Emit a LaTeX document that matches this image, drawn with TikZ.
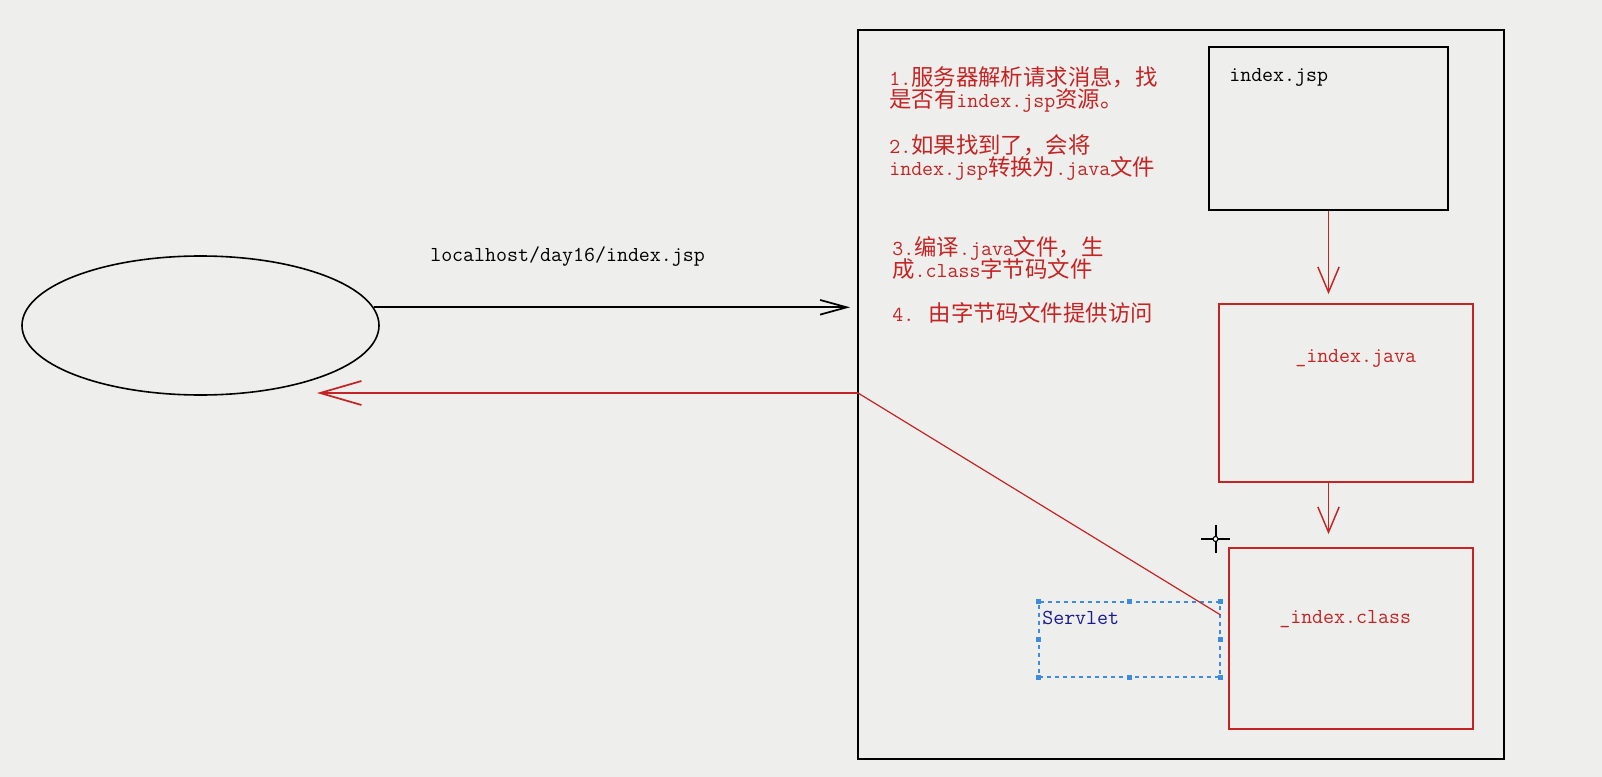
\documentclass[tikz,border=0pt]{standalone}
\usepackage{fontspec}
\newfontfamily\cjk[Scale=1.05]{Noto Sans CJK SC}
\usetikzlibrary{arrows.meta, shapes.geometric}
\definecolor{canvas}{RGB}{238,238,236}
\definecolor{flowred}{RGB}{196,36,36}
\definecolor{noteblue}{RGB}{26,26,140}
\definecolor{selblue}{RGB}{64,140,220}

\begin{document}
\begin{tikzpicture}[x=0.75pt, y=-0.75pt, >=Stealth,
    frame/.style={draw=black, line width=1.3pt, inner sep=0pt},
    redbox/.style={draw=flowred, line width=1.3pt, inner sep=0pt},
    boxtext/.style={font={\fontsize{16pt}{16.8pt}\selectfont\ttfamily\lineskiplimit=-20pt\relax}, inner sep=0pt},
    note/.style={boxtext, text=flowred, align=left, anchor=north west},
    request/.style={line width=1.3pt, -{Straight Barb[length=20pt, width=11pt]}},
    response/.style={draw=flowred, line width=1.3pt, -{Straight Barb[length=31pt, width=18pt]}},
    flow/.style={draw=flowred, line width=1.1pt, -{Straight Barb[length=19pt, width=16pt]}}]
    \fill[canvas] (0,0) rectangle (1602,777);

    \node[draw, ellipse, line width=1.2pt, minimum width=267.75pt, minimum height=104.25pt, inner sep=0pt] (browser) at (200.5,325.5) {};
    \node[frame, minimum width=484.5pt, minimum height=546.75pt] (server) at (1181,394.5) {};

    \node[frame, minimum width=179.25pt, minimum height=122.25pt] (jsp) at (1328.5,128.5) {};
    \node[redbox, minimum width=190.5pt, minimum height=133.5pt] (java) at (1346,393) {};
    \node[redbox, minimum width=183pt, minimum height=135.75pt] (class) at (1351,638.5) {};
    \node[draw=selblue, dashed, line width=0.9pt, inner sep=0pt, minimum width=135.75pt, minimum height=56.25pt] (servlet) at (1129.5,639.5) {};
    \foreach \a in {north west, north, north east, east, south east, south, south west, west}
        \fill[selblue] (servlet.\a) ++(-2.5,-2.5) rectangle ++(5,5);

    \node[boxtext, anchor=base west] (jsplabel) at (1229,82) {index.jsp};
    \node[boxtext, anchor=base west, text=flowred] (javalabel) at (1295,362) {\_index.java};
    \node[boxtext, anchor=base west, text=flowred] (classlabel) at (1279,623) {\_index.class};
    \node[boxtext, anchor=base west, text=noteblue] (servletlabel) at (1042,624) {Servlet};
    \node[boxtext, anchor=base west] (url) at (430,262) {localhost/day16/index.jsp};

    \node[note] (parse) at (889,66) {1.{\cjk 服务器解析请求消息，找}\\{\cjk 是否有}index.jsp{\cjk 资源。}};
    \node[note] (convert) at (889,134) {2.{\cjk 如果找到了，会将}\\index.jsp{\cjk 转换为}.java{\cjk 文件}};
    \node[note] (compile) at (892,236) {3.{\cjk 编译}.java{\cjk 文件，生}\\{\cjk 成}.class{\cjk 字节码文件}};
    \node[note] (serve) at (892,302) {4. {\cjk 由字节码文件提供访问}};

    \coordinate (reqtip) at (850,0);
    \draw[request] (browser.6) -- (browser.6 -| reqtip);

    \coordinate (fork) at (858,393);
    \coordinate (resptip) at (317,393);
    \draw[response] (fork) -- (resptip);
    \draw[flowred, line width=0.9pt] (fork) -- ([yshift=18.4pt]servlet.east);

    \coordinate (javatop) at ([yshift=6.75pt]java.north);
    \coordinate (classtop) at ([yshift=9.75pt]class.north);
    \draw[flow] (jsp.south) -- (jsp.south |- javatop);
    \draw[flow] (java.south -| jsp.south) -- (classtop -| jsp.south);

    \draw[line width=1.5pt] (1201,539) -- (1230,539);
    \draw[line width=1.5pt] (1215.5,525) -- (1215.5,553);
    \filldraw[fill=white, line width=0.8pt] (1215.5,539) circle (2.5);
\end{tikzpicture}
\end{document}
